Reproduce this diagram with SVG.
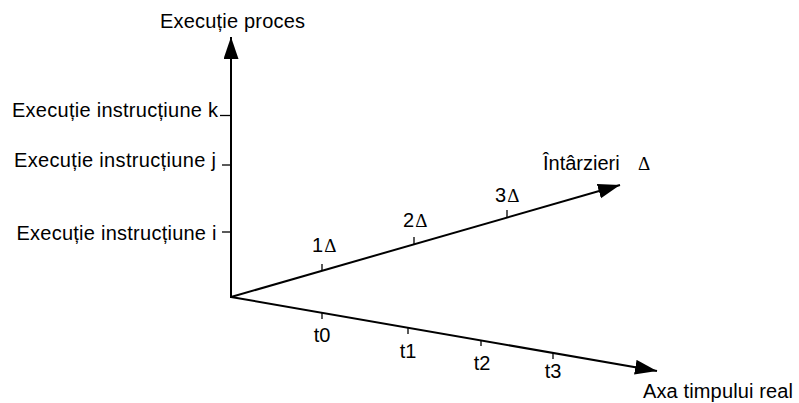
<svg xmlns="http://www.w3.org/2000/svg" width="799" height="403" viewBox="0 0 799 403">
<style>
.t{font-family:"Liberation Sans",Arial,sans-serif;font-size:20px;fill:#000}
.d{font-family:"Liberation Serif","Times New Roman",serif;font-size:19px}
.ax{stroke:#000;stroke-width:2;fill:none}
.tk{stroke:#000;stroke-width:1.3;fill:none}
</style>
<defs>
<marker id="ah" markerUnits="userSpaceOnUse" markerWidth="24" markerHeight="16" refX="22" refY="7.5" orient="auto">
<path d="M0,0 L22,7.5 L0,15 Z" fill="#000"/>
</marker>
</defs>
<rect width="799" height="403" fill="#fff"/>
<g id="connectors">
<line class="ax" x1="231" y1="298" x2="231" y2="37" marker-end="url(#ah)"/>
<line class="ax" x1="231" y1="297" x2="620" y2="185" marker-end="url(#ah)"/>
<line class="ax" x1="231" y1="297" x2="657" y2="371" marker-end="url(#ah)"/>
<line class="tk" x1="220" y1="115.5" x2="231" y2="115.5"/>
<line class="tk" x1="222" y1="165" x2="231" y2="165"/>
<line class="tk" x1="222" y1="232" x2="231" y2="232"/>
<line class="tk" x1="322" y1="264" x2="322" y2="271"/>
<line class="tk" x1="414" y1="237" x2="414" y2="244"/>
<line class="tk" x1="507" y1="210" x2="507" y2="217"/>
<line class="tk" x1="322" y1="313" x2="322" y2="319"/>
<line class="tk" x1="408" y1="328" x2="408" y2="334"/>
<line class="tk" x1="481" y1="340" x2="481" y2="346"/>
<line class="tk" x1="553" y1="353" x2="553" y2="359"/>
</g>
<g id="label-proces"><text class="t" x="160" y="27.5" textLength="145">Execuție proces</text></g>
<g id="label-k"><text class="t" x="12" y="117" textLength="206">Execuție instrucțiune k</text></g>
<g id="label-j"><text class="t" x="14" y="166.5" textLength="202">Execuție instrucțiune j</text></g>
<g id="label-i"><text class="t" x="16.5" y="240" textLength="200">Execuție instrucțiune i</text></g>
<g id="label-intarzieri"><text class="t" x="543" y="170">Întârzieri<tspan class="d" x="638">Δ</tspan></text></g>
<g id="label-1d"><text class="t" x="312" y="251.5">1<tspan class="d" dx="1">Δ</tspan></text></g>
<g id="label-2d"><text class="t" x="403" y="227">2<tspan class="d" dx="1">Δ</tspan></text></g>
<g id="label-3d"><text class="t" x="495" y="201.5">3<tspan class="d" dx="1">Δ</tspan></text></g>
<g id="label-t0"><text class="t" x="322" y="341.5" text-anchor="middle">t0</text></g>
<g id="label-t1"><text class="t" x="408" y="358" text-anchor="middle">t1</text></g>
<g id="label-t2"><text class="t" x="482" y="369.5" text-anchor="middle">t2</text></g>
<g id="label-t3"><text class="t" x="553" y="378" text-anchor="middle">t3</text></g>
<g id="label-axa"><text class="t" x="643" y="398" textLength="150">Axa timpului real</text></g>
</svg>
